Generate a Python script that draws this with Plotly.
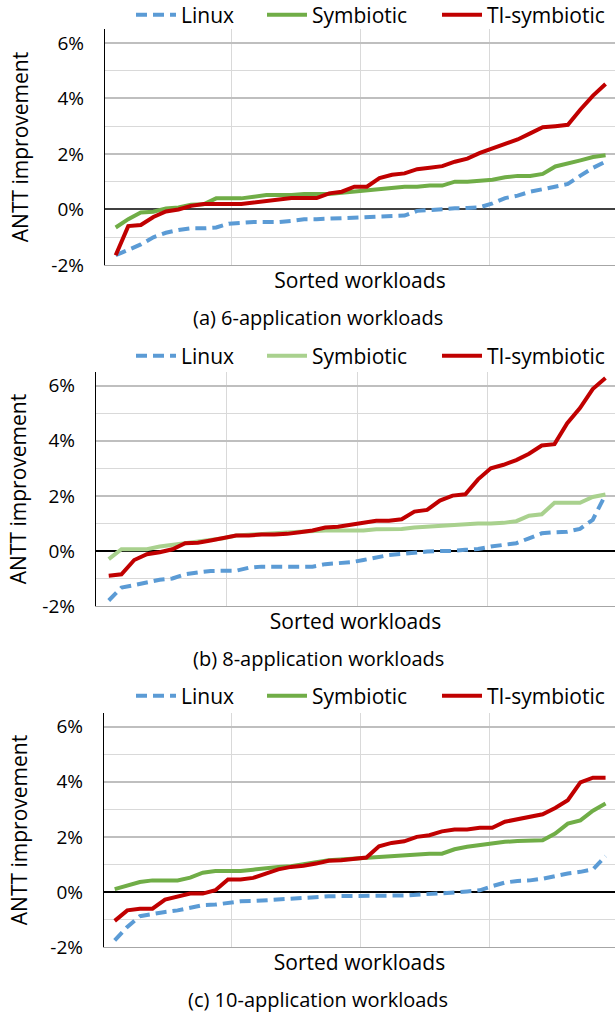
import plotly.graph_objects as go

# ---------------- data ----------------
workloads = list(range(1, 41))
series_names = ["Linux", "Symbiotic", "TI-symbiotic"]
captions = ["(a) 6-application workloads", "(b) 8-application workloads", "(c) 10-application workloads"]
y_tickvals = [-2, 0, 2, 4, 6]
y_ticktext = ["-2%", "0%", "2%", "4%", "6%"]

linux_6 = [-1.65, -1.44, -1.26, -1.0, -0.84, -0.74, -0.68, -0.68, -0.65, -0.51,
           -0.47, -0.45, -0.45, -0.45, -0.41, -0.35, -0.35, -0.33, -0.31, -0.29,
           -0.29, -0.24, -0.23, -0.22, -0.05, -0.01, 0.0, 0.04, 0.05, 0.08,
           0.22, 0.41, 0.5, 0.64, 0.73, 0.82, 0.92, 1.22, 1.5, 1.72]
sym_6 = [-0.65, -0.35, -0.11, -0.08, 0.04, 0.07, 0.17, 0.19, 0.4, 0.4,
         0.4, 0.46, 0.52, 0.52, 0.52, 0.56, 0.56, 0.56, 0.6, 0.64,
         0.68, 0.73, 0.78, 0.82, 0.82, 0.86, 0.86, 1.0, 1.0, 1.04,
         1.07, 1.16, 1.21, 1.21, 1.28, 1.55, 1.65, 1.77, 1.89, 1.95]
ti_6 = [-1.65, -0.6, -0.56, -0.27, -0.07, 0.0, 0.13, 0.2, 0.2, 0.2,
        0.2, 0.25, 0.3, 0.36, 0.41, 0.41, 0.41, 0.58, 0.64, 0.82,
        0.82, 1.13, 1.25, 1.3, 1.45, 1.5, 1.56, 1.72, 1.83, 2.04,
        2.2, 2.34, 2.52, 2.74, 2.96, 3.0, 3.05, 3.6, 4.1, 4.52]

linux_8 = [-1.8, -1.33, -1.24, -1.14, -1.05, -1.0, -0.85, -0.78, -0.73, -0.72,
           -0.72, -0.61, -0.57, -0.57, -0.57, -0.57, -0.57, -0.48, -0.45, -0.41,
           -0.33, -0.24, -0.15, -0.11, -0.06, -0.02, 0.0, 0.0, 0.04, 0.07,
           0.16, 0.22, 0.28, 0.46, 0.64, 0.68, 0.7, 0.8, 1.13, 2.04]
sym_8 = [-0.3, 0.06, 0.06, 0.06, 0.16, 0.22, 0.31, 0.34, 0.4, 0.46,
         0.56, 0.58, 0.62, 0.64, 0.67, 0.7, 0.73, 0.74, 0.74, 0.74,
         0.74, 0.79, 0.79, 0.8, 0.85, 0.88, 0.94, 0.96, 1.0, 1.0,
         1.0, 1.02, 1.08, 1.28, 1.33, 1.75, 1.75, 1.75, 1.96, 2.05]
ti_8 = [-0.9, -0.85, -0.33, -0.12, -0.05, 0.06, 0.28, 0.3, 0.38, 0.48,
        0.56, 0.56, 0.6, 0.6, 0.62, 0.68, 0.74, 0.85, 0.88, 0.95,
        1.04, 1.1, 1.1, 1.15, 1.43, 1.49, 1.83, 2.01, 2.06, 2.6,
        3.0, 3.13, 3.3, 3.53, 3.83, 3.88, 4.64, 5.19, 5.88, 6.28]

linux_10 = [-1.76, -1.27, -0.88, -0.79, -0.73, -0.67, -0.57, -0.48, -0.46, -0.39,
            -0.34, -0.33, -0.3, -0.27, -0.22, -0.19, -0.18, -0.16, -0.15, -0.15,
            -0.15, -0.15, -0.15, -0.13, -0.1, -0.08, -0.06, -0.02, 0.02, 0.06,
            0.21, 0.34, 0.4, 0.42, 0.48, 0.58, 0.67, 0.73, 0.82, 1.3]
sym_10 = [0.1, 0.24, 0.36, 0.42, 0.42, 0.42, 0.52, 0.7, 0.76, 0.76,
          0.76, 0.81, 0.87, 0.91, 0.93, 0.99, 1.08, 1.15, 1.18, 1.21,
          1.24, 1.27, 1.33, 1.33, 1.36, 1.39, 1.39, 1.55, 1.64, 1.7,
          1.78, 1.82, 1.85, 1.88, 1.88, 2.12, 2.48, 2.6, 2.95, 3.21]
ti_10 = [-1.05, -0.67, -0.61, -0.61, -0.28, -0.18, -0.06, -0.06, 0.06, 0.45,
         0.45, 0.51, 0.67, 0.82, 0.91, 0.95, 1.03, 1.13, 1.15, 1.19,
         1.25, 1.66, 1.78, 1.84, 2.0, 2.06, 2.2, 2.27, 2.27, 2.33,
         2.33, 2.55, 2.64, 2.75, 2.82, 3.05, 3.33, 3.98, 4.15, 4.15]

panels = [(linux_6, sym_6, ti_6), (linux_8, sym_8, ti_8), (linux_10, sym_10, ti_10)]

# ---------------- styling ----------------
W, H = 615, 1015
FONT = "Open Sans"
BLUE = "#5B9BD5"
RED = "#C00000"
GREEN_COLORS = ["#70AD47", "#A9D18E", "#70AD47"]
ZERO_COLORS = ["#404040", "#000000", "#000000"]


def fx(px):
    return px / W


def fy(py):
    return 1 - py / H


# pixel geometry per panel: (plot top, plot bottom, plot left, x-range start, y-title standoff)
geom = [(29, 265, 105, 0.15, 17), (372, 606, 96, 0.0, 10), (713, 947, 104, 0.15, 17)]
legend_y = [15, 356, 696]
legend_x = [137, 268, 443]
caption_y = [317, 658, 999]

fig = go.Figure()
layout = {}
for p, (lin, sym, ti) in enumerate(panels):
    sfx = "" if p == 0 else str(p + 1)
    xa, ya = "x" + sfx, "y" + sfx
    styles = [dict(color=BLUE, width=4, dash="11px,6px"),
              dict(color=GREEN_COLORS[p], width=4),
              dict(color=RED, width=4)]
    for i, vals in enumerate((lin, sym, ti)):
        n = p * 3 + i + 1
        leg = "legend" if n == 1 else "legend" + str(n)
        fig.add_trace(go.Scatter(x=workloads, y=vals, name=series_names[i], mode="lines",
                                 line=styles[i], xaxis=xa, yaxis=ya, legend=leg))
        layout[leg] = dict(orientation="h", x=fx(legend_x[i] - 6), xanchor="left",
                           y=fy(legend_y[p]), yanchor="middle",
                           font=dict(family=FONT, size=21, color="#000"),
                           bgcolor="rgba(0,0,0,0)", itemwidth=40)
    top, bot, left, x0, tstand = geom[p]
    layout["xaxis" + sfx] = dict(
        domain=[fx(left), 1.0], range=[x0, 40.75], anchor=ya,
        tickvals=[10.25, 20.5, 30.75], showticklabels=False, ticks="",
        showgrid=True, gridcolor="#D9D9D9", gridwidth=1.3,
        showline=True, linecolor="#A6A6A6", linewidth=1.3, zeroline=False,
        title=dict(text="Sorted workloads", standoff=8,
                   font=dict(family=FONT, size=21, color="#000")),
    )
    layout["yaxis" + sfx] = dict(
        domain=[fy(bot), fy(top)], range=[-2, 6.5], anchor=xa,
        tickvals=y_tickvals, ticktext=y_ticktext, ticks="", ticklabelstandoff=16,
        tickfont=dict(family=FONT, size=19, color="#000"),
        showgrid=True, gridcolor="#BFBFBF", gridwidth=1.5,
        minor=dict(dtick=1, tick0=-1, showgrid=True, gridcolor="#D9D9D9", gridwidth=1.3, ticks=""),
        zeroline=True, zerolinecolor=ZERO_COLORS[p], zerolinewidth=1.6,
        showline=True, linecolor="#000000", linewidth=1.3,
        title=dict(text="ANTT improvement", standoff=tstand,
                   font=dict(family=FONT, size=21, color="#000")),
    )

annotations = []
for p in range(3):
    annotations.append(dict(text=captions[p], x=fx(318), y=fy(caption_y[p]),
                            xref="paper", yref="paper", xanchor="center", yanchor="middle",
                            showarrow=False, font=dict(family=FONT, size=20, color="#000")))

fig.update_layout(width=W, height=H, margin=dict(l=0, r=0, t=0, b=0, autoexpand=False),
                  paper_bgcolor="white", plot_bgcolor="white",
                  showlegend=True, annotations=annotations, **layout)

# remove the page's default 8px body margin so the figure fills the window exactly
fig.write_html("out.html", config={"displayModeBar": False},
               post_script="document.body.style.margin='0px';")
